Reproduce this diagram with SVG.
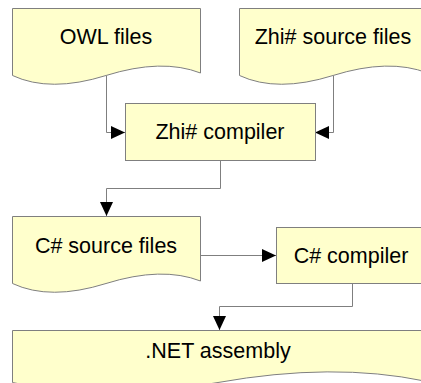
<svg xmlns="http://www.w3.org/2000/svg" width="421" height="383" viewBox="0 0 421 383">
  <style>
    .shape { fill: #FFFFCC; stroke: #7F7F7F; stroke-width: 1; }
    .label { font-family: "Liberation Sans", Arial, sans-serif; font-size: 21.5px; fill: #000; text-anchor: middle; }
    .wire { fill: none; stroke: #7F7F7F; stroke-width: 1; }
  </style>
  <defs>
    <marker id="arrow" viewBox="0 0 14 13" refX="14" refY="6.5" markerWidth="14" markerHeight="13" markerUnits="userSpaceOnUse" orient="auto">
      <path d="M0,0 L14,6.5 L0,13 Z" fill="#000"/>
    </marker>
  </defs>

  <rect width="421" height="383" fill="#FFFFFF"/>

  <!-- connectors -->
  <g id="connectors">
    <path class="wire" d="M106.5,76 V132.5 H125" marker-end="url(#arrow)"/>
    <path class="wire" d="M333.5,76 V132.5 H315" marker-end="url(#arrow)"/>
    <path class="wire" d="M220.5,160 V188.5 H106.5 V216" marker-end="url(#arrow)"/>
    <path class="wire" d="M201,255.5 H276" marker-end="url(#arrow)"/>
    <path class="wire" d="M352.5,283 V306.5 H219.5 V330" marker-end="url(#arrow)"/>
  </g>

  <!-- documents and process boxes -->
  <g id="owl-files">
    <path class="shape" d="M12.5,8.5 H200.5 V73 Q162,58 106,75.5 T12.5,75.5 Z"/>
    <text class="label" x="106" y="44">OWL files</text>
  </g>
  <g id="zhi-source-files">
    <path class="shape" d="M239.5,8.5 H427.5 V73 Q389,58 333,75.5 T239.5,75.5 Z"/>
    <text class="label" x="333" y="44">Zhi# source files</text>
  </g>
  <g id="zhi-compiler">
    <rect class="shape" x="125.5" y="103.5" width="190" height="57"/>
    <text class="label" x="220" y="139">Zhi# compiler</text>
  </g>
  <g id="cs-source-files">
    <path class="shape" d="M12.5,216.5 H200.5 V281 Q162,266 106,283.5 T12.5,283.5 Z"/>
    <text class="label" x="106" y="253">C# source files</text>
  </g>
  <g id="cs-compiler">
    <rect class="shape" x="276.5" y="227.5" width="150" height="56"/>
    <text class="label" x="351" y="263">C# compiler</text>
  </g>
  <g id="net-assembly">
    <path class="shape" d="M12.5,330.5 H424.5 V381 Q333,362 218,382.5 T12.5,382.5 Z"/>
    <text class="label" x="218" y="358">.NET assembly</text>
  </g>
</svg>
